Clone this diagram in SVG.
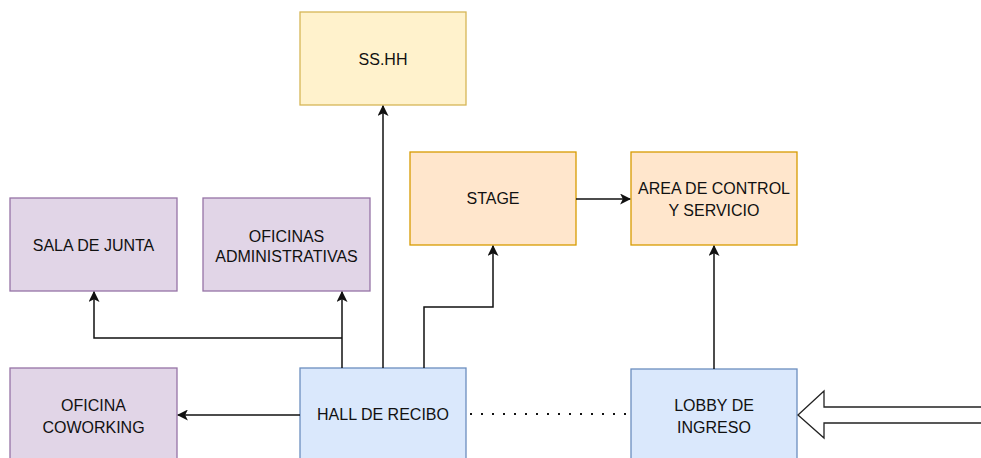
<svg xmlns="http://www.w3.org/2000/svg" width="981" height="458" viewBox="0 0 981 458">
<defs>
<style>
.t{font-family:"Liberation Sans",Arial,sans-serif;font-size:16px;fill:#111;text-anchor:middle;dominant-baseline:central}
.p{fill:#e1d5e7;stroke:#9673a6;stroke-width:1.3}
.y{fill:#fff2cc;stroke:#d6b656;stroke-width:1.3}
.o{fill:#ffe6cc;stroke:#d79b00;stroke-width:1.3}
.b{fill:#dae8fc;stroke:#6c8ebf;stroke-width:1.3}
.c{fill:none;stroke:#111;stroke-width:1.5}
</style>
<marker id="a" viewBox="0 0 10 10" refX="9" refY="5" markerWidth="11" markerHeight="11" markerUnits="userSpaceOnUse" orient="auto">
<path d="M0,0 L10,5 L0,10 L2.5,5 Z" fill="#111"/>
</marker>
</defs>
<rect width="981" height="458" fill="#fff"/>
<g id="ssHH"><rect class="y" x="300" y="12" width="166" height="93"/><text class="t" x="383" y="59">SS.HH</text></g>
<g id="salaJunta"><rect class="p" x="10" y="198" width="167" height="93"/><text class="t" x="93.5" y="245">SALA DE JUNTA</text></g>
<g id="oficinasAdm"><rect class="p" x="203" y="198" width="167" height="93"/><text class="t" x="286.5" y="236">OFICINAS</text><text class="t" x="286.5" y="256">ADMINISTRATIVAS</text></g>
<g id="stage"><rect class="o" x="410" y="152" width="166" height="93"/><text class="t" x="493" y="198">STAGE</text></g>
<g id="areaControl"><rect class="o" x="631" y="152" width="166" height="93"/><text class="t" x="714" y="188">AREA DE CONTROL</text><text class="t" x="714" y="210">Y SERVICIO</text></g>
<g id="coworking"><rect class="p" x="10" y="368" width="167" height="94"/><text class="t" x="93.5" y="405">OFICINA</text><text class="t" x="93.5" y="427">COWORKING</text></g>
<g id="hall"><rect class="b" x="300" y="368" width="166" height="94"/><text class="t" x="383" y="414">HALL DE RECIBO</text></g>
<g id="lobby"><rect class="b" x="631" y="369" width="166" height="94"/><text class="t" x="714" y="405">LOBBY DE</text><text class="t" x="714" y="427">INGRESO</text></g>
<g id="connectors">
<path class="c" d="M342,368 V292" marker-end="url(#a)"/>
<path class="c" d="M342,338 H94 V292" marker-end="url(#a)"/>
<path class="c" d="M383,368 V106" marker-end="url(#a)"/>
<path class="c" d="M424,368 V307 H493 V246" marker-end="url(#a)"/>
<path class="c" d="M300,415 H178" marker-end="url(#a)"/>
<path class="c" d="M576,199 H630" marker-end="url(#a)"/>
<path class="c" d="M714,369 V246" marker-end="url(#a)"/>
<path d="M470,414 H630" fill="none" stroke="#111" stroke-width="2.2" stroke-dasharray="2 9"/>
<path d="M985,407 H824 V391 L798,415 L824,438 V423 H985" fill="#fff" stroke="#222" stroke-width="1.3"/>
</g>
</svg>
